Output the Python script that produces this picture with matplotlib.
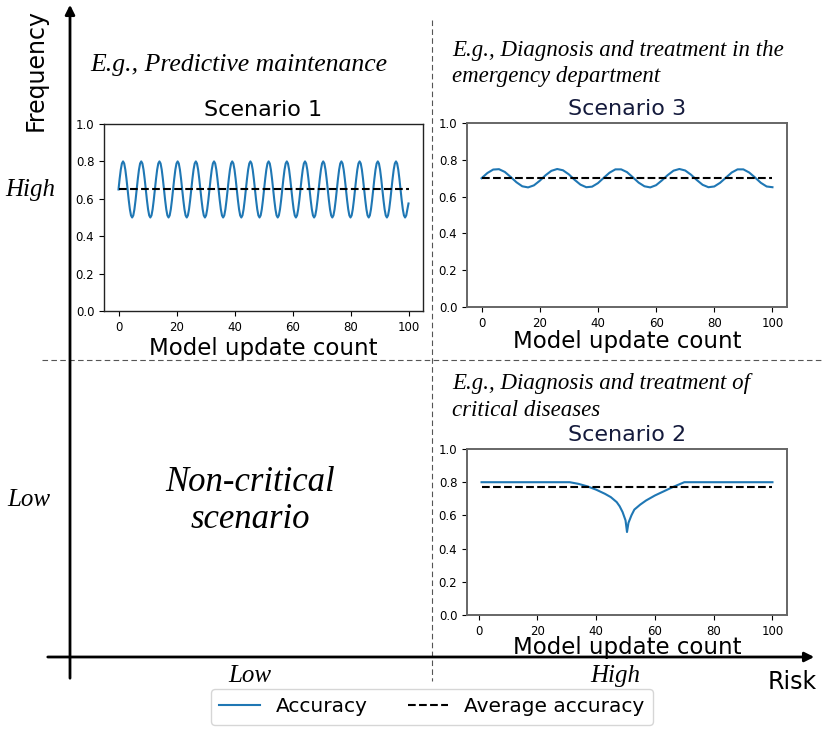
import numpy as np
import matplotlib
matplotlib.use('Agg')
import matplotlib.pyplot as plt
from matplotlib.lines import Line2D

# Scenario 1: fast oscillation around 0.65 (values read every ~0.39 updates, 16 per cycle)
acc1 = [
    0.65, 0.707, 0.756, 0.789, 0.80, 0.789, 0.756, 0.707, 0.65, 0.593, 0.544, 0.511, 0.50, 0.511, 0.544, 0.593,
    0.65, 0.707, 0.756, 0.789, 0.80, 0.789, 0.756, 0.707, 0.65, 0.593, 0.544, 0.511, 0.50, 0.511, 0.544, 0.593,
    0.65, 0.707, 0.756, 0.789, 0.80, 0.789, 0.756, 0.707, 0.65, 0.593, 0.544, 0.511, 0.50, 0.511, 0.544, 0.593,
    0.65, 0.707, 0.756, 0.789, 0.80, 0.789, 0.756, 0.707, 0.65, 0.593, 0.544, 0.511, 0.50, 0.511, 0.544, 0.593,
    0.65, 0.707, 0.756, 0.789, 0.80, 0.789, 0.756, 0.707, 0.65, 0.593, 0.544, 0.511, 0.50, 0.511, 0.544, 0.593,
    0.65, 0.707, 0.756, 0.789, 0.80, 0.789, 0.756, 0.707, 0.65, 0.593, 0.544, 0.511, 0.50, 0.511, 0.544, 0.593,
    0.65, 0.707, 0.756, 0.789, 0.80, 0.789, 0.756, 0.707, 0.65, 0.593, 0.544, 0.511, 0.50, 0.511, 0.544, 0.593,
    0.65, 0.707, 0.756, 0.789, 0.80, 0.789, 0.756, 0.707, 0.65, 0.593, 0.544, 0.511, 0.50, 0.511, 0.544, 0.593,
    0.65, 0.707, 0.756, 0.789, 0.80, 0.789, 0.756, 0.707, 0.65, 0.593, 0.544, 0.511, 0.50, 0.511, 0.544, 0.593,
    0.65, 0.707, 0.756, 0.789, 0.80, 0.789, 0.756, 0.707, 0.65, 0.593, 0.544, 0.511, 0.50, 0.511, 0.544, 0.593,
    0.65, 0.707, 0.756, 0.789, 0.80, 0.789, 0.756, 0.707, 0.65, 0.593, 0.544, 0.511, 0.50, 0.511, 0.544, 0.593,
    0.65, 0.707, 0.756, 0.789, 0.80, 0.789, 0.756, 0.707, 0.65, 0.593, 0.544, 0.511, 0.50, 0.511, 0.544, 0.593,
    0.65, 0.707, 0.756, 0.789, 0.80, 0.789, 0.756, 0.707, 0.65, 0.593, 0.544, 0.511, 0.50, 0.511, 0.544, 0.593,
    0.65, 0.707, 0.756, 0.789, 0.80, 0.789, 0.756, 0.707, 0.65, 0.593, 0.544, 0.511, 0.50, 0.511, 0.544, 0.593,
    0.65, 0.707, 0.756, 0.789, 0.80, 0.789, 0.756, 0.707, 0.65, 0.593, 0.544, 0.511, 0.50, 0.511, 0.544, 0.593,
    0.65, 0.707, 0.756, 0.789, 0.80, 0.789, 0.756, 0.707, 0.65, 0.593, 0.544, 0.511, 0.50, 0.511, 0.544, 0.575,
]
avg1 = 0.65

# Scenario 3: slow oscillation around 0.70 (values read every 2 updates)
acc3 = [
    0.700, 0.728, 0.747, 0.749, 0.734, 0.707, 0.678, 0.656, 0.650, 0.661,
    0.686, 0.716, 0.740, 0.750, 0.743, 0.721, 0.691, 0.665, 0.651, 0.654,
    0.673, 0.702, 0.730, 0.748, 0.748, 0.733, 0.705, 0.676, 0.656, 0.650,
    0.662, 0.688, 0.717, 0.741, 0.750, 0.742, 0.719, 0.690, 0.664, 0.651,
    0.655, 0.675, 0.703, 0.731, 0.748, 0.748, 0.731, 0.704, 0.675, 0.655,
    0.651,
]
avg3 = 0.70

# Scenario 2: stable, then a sharp dip around update 50
x2 = [1, 31, 34, 37, 40, 43, 45, 47, 48, 49, 50, 50.5, 51, 52, 53, 55, 57, 60, 63, 66, 68, 70, 100]
acc2 = [0.80, 0.80, 0.79, 0.775, 0.755, 0.73, 0.71, 0.68, 0.655, 0.62, 0.57, 0.50,
        0.555, 0.60, 0.635, 0.665, 0.69, 0.72, 0.745, 0.77, 0.785, 0.80, 0.80]
avg2 = 0.77

x1 = np.linspace(0, 100, len(acc1))
x3 = np.linspace(0, 100, len(acc3))

W, H = 831, 729
fig = plt.figure(figsize=(W / 100, H / 100), dpi=100)

# background layer in pixel coordinates for arrows / texts
bg = fig.add_axes([0, 0, 1, 1])
bg.set_xlim(0, W)
bg.set_ylim(H, 0)
bg.axis('off')

serif = dict(family=['Liberation Serif', 'DejaVu Serif'], style='italic')

# axes arrows
bg.annotate('', xy=(70, 2), xytext=(70, 681),
            arrowprops=dict(arrowstyle='-|>', lw=2, color='black', mutation_scale=14))
bg.annotate('', xy=(817, 657), xytext=(45, 657),
            arrowprops=dict(arrowstyle='-|>', lw=2, color='black', mutation_scale=14))

# quadrant separators
bg.plot([432, 432], [20, 681], color='#555555', lw=0.8, ls=(0, (5, 3)))
bg.plot([42, 822], [360, 360], color='#555555', lw=0.8, ls=(0, (5, 3)))

bg.text(36, 70, 'Frequency', rotation=90, ha='center', va='center', fontsize=17)
bg.text(792, 682, 'Risk', ha='center', va='center', fontsize=17)
bg.text(30, 190, 'High', ha='center', va='center', fontsize=18, **serif)
bg.text(29, 500, 'Low', ha='center', va='center', fontsize=18, **serif)
bg.text(250, 676, 'Low', ha='center', va='center', fontsize=18, **serif)
bg.text(615, 676, 'High', ha='center', va='center', fontsize=18, **serif)

bg.text(90, 65, 'E.g., Predictive maintenance', ha='left', va='center', fontsize=18.5, **serif)
bg.text(452, 50, 'E.g., Diagnosis and treatment in the', ha='left', va='center', fontsize=16.5, **serif)
bg.text(452, 76, 'emergency department', ha='left', va='center', fontsize=16.5, **serif)
bg.text(452, 383, 'E.g., Diagnosis and treatment of', ha='left', va='center', fontsize=16.5, **serif)
bg.text(452, 410, 'critical diseases', ha='left', va='center', fontsize=16.5, **serif)
bg.text(250, 501, 'Non-critical\nscenario', ha='center', va='center', fontsize=25,
        linespacing=1.15, **serif)


def px_axes(left, top, right, bottom):
    return fig.add_axes([left / W, 1 - bottom / H, (right - left) / W, (bottom - top) / H])


def scenario(ax, x, y, avg, title, tcolor, scolor, slw, lpad):
    ax.plot(x, y, color='#1f77b4', lw=1.5)
    ax.plot([x[0], x[-1]], [avg, avg], color='black', ls='--', lw=1.5)
    ax.set_ylim(0, 1)
    ax.set_yticks([0.0, 0.2, 0.4, 0.6, 0.8, 1.0])
    ax.set_xticks([0, 20, 40, 60, 80, 100])
    ax.tick_params(labelsize=8.5)
    ax.set_title(title, fontsize=16, color=tcolor)
    ax.set_xlabel('Model update count', fontsize=16.5, labelpad=lpad)
    for s in ax.spines.values():
        s.set_color(scolor)
        s.set_linewidth(slw)


ax1 = px_axes(104, 124, 423, 311)
scenario(ax1, x1, acc1, avg1, 'Scenario 1', 'black', '#222222', 1.0, 2)

ax3 = px_axes(467, 123, 787, 307)
scenario(ax3, x3, acc3, avg3, 'Scenario 3', '#141a3c', '#666666', 1.4, 0)

ax2 = px_axes(467, 449, 787, 615)
scenario(ax2, x2, acc2, avg2, 'Scenario 2', '#141a3c', '#666666', 1.4, -1)

handles = [Line2D([], [], color='#1f77b4', lw=1.5),
           Line2D([], [], color='black', ls='--', lw=1.5)]
fig.legend(handles, ['Accuracy', 'Average accuracy'], ncol=2, fontsize=14.5,
           loc='center', bbox_to_anchor=(432 / W, 1 - 707 / H), frameon=True)

fig.savefig('out.png', dpi=100)
